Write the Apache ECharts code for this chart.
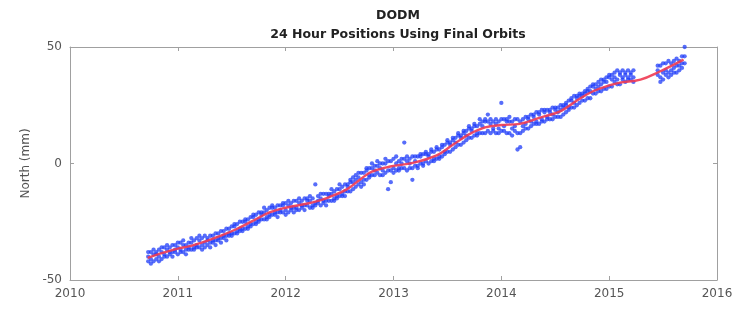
<!DOCTYPE html>
<html>
<head>
<meta charset="utf-8">
<script src="https://cdn.jsdelivr.net/npm/echarts@6/dist/echarts.min.js"></script>
<style>
  html, body { margin: 0; padding: 0; background: #fff; }
  #chart { width: 755px; height: 309px; }
</style>
</head>
<body>
<div id="chart"></div>
<script>
// title text
var titleLines = ['DODM', '24 Hour Positions Using Final Orbits'];
var yName = 'North (mm)';

var seg1Start = 2010.725;
var seg1Step = 0.025;
var seg1North = [
    [-42,-40,-38],[-41,-38,-43],[-39,-42,-37],[-41,-38,-39],[-37,-40,-42],
    [-41,-38,-36],[-39,-36,-40],[-37,-40,-35],[-39,-36,-38],[-35,-38,-40],
    [-38,-35,-37],[-39,-36,-34],[-37,-34,-38],[-35,-38,-33],[-37,-35,-39],
    [-34,-37,-36],[-37,-34,-32],[-36,-33,-37],[-32,-36,-35],[-36,-33,-31],
    [-35,-32,-37],[-34,-31,-36],[-35,-32,-33],[-31,-34,-36],[-34,-31,-33],
    [-30,-33,-35],[-33,-30,-32],[-29,-32,-34],[-32,-29,-31],[-28,-31,-33],
    [-31,-28,-30],[-27,-30,-31],[-30,-27,-26],[-29,-26,-30],[-28,-25,-29],
    [-25,-28,-29],[-28,-25,-24],[-27,-24,-28],[-23,-26,-27],[-26,-23,-22],
    [-25,-22,-26],[-21,-24,-25],[-24,-21,-22],[-24,-21,-19],[-23,-20,-24],
    [-19,-22,-23],[-22,-19,-18],[-22,-19,-21],[-18,-21,-23],[-21,-18,-20],
    [-21,-18,-17],[-20,-17,-22],[-18,-21,-16],[-20,-17,-19],[-16,-19,-21],
    [-19,-16,-20],[-17,-20,-15],[-19,-16,-18],[-15,-18,-20],[-18,-15,-16],
    [-19,-16,-14],[-18,-15,-19],[-9,-17,-18],[-17,-14,-16],[-18,-15,-13],
    [-16,-13,-17],[-13,-16,-18],[-16,-13,-14],[-16,-13,-11],[-15,-12,-16],
    [-11,-14,-15],[-14,-11,-9],[-13,-10,-14],[-9,-12,-14],[-12,-9,-10],
    [-12,-8,-7],[-11,-8,-6],[-10,-7,-5],[-9,-6,-4],[-8,-4,-10],
    [-4,-7,-9],[-7,-3,-2],[-6,-2,-5],[-2,-5,0],[-5,-1,-3],
    [-1,-4,1],[-5,-2,0],[0,-3,-5],[-4,0,2],[-11,1,-3],
    [-3,1,-8],[2,-2,-4],[-3,0,3],[1,-3,-2],[-2,2,0],
    [2,-2,9],[-3,1,3],[2,-2,0],[-2,3,-7],[3,-1,1],
    [-1,3,-2],[3,0,4],[0,4,-1],[4,1,5],[0,4,3],
    [5,1,6],[1,5,2],[6,2,7],[2,6,3],[7,3,8],
    [4,8,5],[9,5,10],[5,9,8],[10,6,11],[7,11,9],
    [12,8,13],[8,12,11],[13,9,14],[10,14,12],[15,11,16],
    [11,15,14],[16,12,17],[12,16,13],[17,13,19],[13,18,16],
    [18,13,19],[14,18,21],[19,13,17],[14,18,15],[19,13,17],
    [13,18,15],[19,14,26],[14,19,16],[19,13,18],[13,18,20],
    [18,12,15],[14,19,16],[19,13,6],[13,18,7],[19,14,16],
    [15,20,17],[20,15,19],[16,21,18],[21,17,20],[17,22,18],
    [22,17,21],[18,23,19],[22,18,23],[19,23,20],[23,19,22],
    [19,24,21],[24,20,23],[20,24,22],[25,20,23],[21,25,24],
    [26,22,25],[23,27,24],[28,24,27],[24,29,26],[29,25,28],
    [26,30,29],[30,27,29],[27,31,30],[32,28,31],[28,33,31],
    [33,30,34],[30,34,32],[35,31,33],[31,36,34],[36,32,35],
    [32,37,35],[37,33,38],[33,38,36],[39,35,37],[36,40,34],
    [38,34,39],[36,40,37],[39,35,38],[37,40,36],[38,36,39],
    [40,37,35]
];
var seg2Start = 2015.45;
var seg2Step = 0.025;
var seg2North = [
    [42,38,40],[37,42,35],[43,39,36],[38,43,40],[44,39,37],
    [40,43,38],[41,44,39],[39,42,45],[44,40,42],[46,43,41],
    [43,46,50]
];

// red fitted curve
var fitYears = [2010.72, 2010.85, 2011.0, 2011.1, 2011.25, 2011.4, 2011.55, 2011.7, 2011.85,
    2012.0, 2012.25, 2012.4, 2012.57, 2012.7, 2012.8, 2012.97, 2013.18, 2013.4, 2013.55,
    2013.7, 2013.85, 2014.0, 2014.17, 2014.36, 2014.55, 2014.7, 2014.85, 2015.0, 2015.1,
    2015.29, 2015.47, 2015.69];
var fitNorth = [-40.5, -38.5, -36.5, -35.6, -33.5, -31, -28, -24.5, -21,
    -19, -16.7, -14.5, -11, -6.5, -3.5, -1.3, 0.3, 3.5, 8,
    12.5, 15.5, 16.5, 17, 19.7, 22.5, 27, 31, 33.5, 34.7,
    36, 39.5, 44.6];

var xTicks = { min: 2010, max: 2016, interval: 1 };
var yTicks = { min: -50, max: 50, interval: 50 };

function buildPoints(start, step, rows) {
    var out = [];
    for (var i = 0; i < rows.length; i++) {
        for (var k = 0; k < rows[i].length; k++) {
            out.push([start + i * step, rows[i][k]]);
        }
    }
    return out;
}

var scatterData = buildPoints(seg1Start, seg1Step, seg1North)
    .concat(buildPoints(seg2Start, seg2Step, seg2North));

var fitData = [];
for (var i = 0; i < fitYears.length; i++) {
    fitData.push([fitYears[i], fitNorth[i]]);
}

var chart = echarts.init(document.getElementById('chart'));

var boxColor = '#a0a0a0';
var labelColor = '#555';

var option = {
    animation: false,
    backgroundColor: '#fff',
    title: [
        {
            text: titleLines[0],
            left: 393, top: 4, textAlign: 'center',
            textStyle: { fontFamily: 'DejaVu Sans', fontSize: 12.5, fontWeight: 'bold', color: '#222' }
        },
        {
            text: titleLines[1],
            left: 393, top: 23, textAlign: 'center',
            textStyle: { fontFamily: 'DejaVu Sans', fontSize: 12.5, fontWeight: 'bold', color: '#222' }
        }
    ],
    grid: { left: 70, right: 38, top: 47, bottom: 29 },
    xAxis: [
        {
            type: 'value', position: 'bottom',
            min: xTicks.min, max: xTicks.max, interval: xTicks.interval,
            axisLine: { show: true, onZero: false, lineStyle: { color: boxColor, width: 1 } },
            axisTick: { show: true, inside: true, length: 4, lineStyle: { color: boxColor } },
            axisLabel: {
                color: labelColor, fontFamily: 'DejaVu Sans', fontSize: 12, margin: 8,
                formatter: function (v) { return String(v); }
            },
            splitLine: { show: false }
        },
        {
            type: 'value', position: 'top',
            min: xTicks.min, max: xTicks.max, interval: xTicks.interval,
            axisLine: { show: true, onZero: false, lineStyle: { color: boxColor, width: 1 } },
            axisTick: { show: true, inside: true, length: 4, lineStyle: { color: boxColor } },
            axisLabel: { show: false },
            splitLine: { show: false }
        }
    ],
    yAxis: [
        {
            type: 'value', position: 'left',
            min: yTicks.min, max: yTicks.max, interval: yTicks.interval,
            name: yName, nameLocation: 'middle', nameGap: 36, nameRotate: 90,
            nameTextStyle: { color: labelColor, fontFamily: 'DejaVu Sans', fontSize: 12 },
            axisLine: { show: true, onZero: false, lineStyle: { color: boxColor, width: 1 } },
            axisTick: { show: true, inside: true, length: 4, lineStyle: { color: boxColor } },
            axisLabel: { color: labelColor, fontFamily: 'DejaVu Sans', fontSize: 12, margin: 8 },
            splitLine: { show: false }
        },
        {
            type: 'value', position: 'right',
            min: yTicks.min, max: yTicks.max, interval: yTicks.interval,
            axisLine: { show: true, onZero: false, lineStyle: { color: boxColor, width: 1 } },
            axisTick: { show: true, inside: true, length: 4, lineStyle: { color: boxColor } },
            axisLabel: { show: false },
            splitLine: { show: false }
        }
    ],
    series: [
        {
            name: 'daily',
            type: 'scatter',
            xAxisIndex: 0, yAxisIndex: 0,
            symbol: 'circle',
            symbolSize: 4.3,
            itemStyle: { color: '#1f3cf8', opacity: 0.75 },
            data: scatterData,
            z: 2
        },
        {
            name: 'fit',
            type: 'line',
            xAxisIndex: 0, yAxisIndex: 0,
            smooth: 0.4,
            showSymbol: false,
            symbol: 'none',
            lineStyle: { color: '#ee3a52', width: 2.4, opacity: 0.9 },
            data: fitData,
            z: 3
        }
    ]
};

chart.setOption(option);
</script>
</body>
</html>
